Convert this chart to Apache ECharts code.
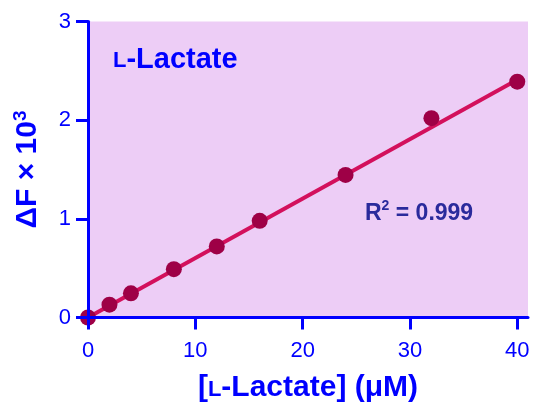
<!DOCTYPE html>
<html>
<head>
<meta charset="utf-8">
<script src="https://cdn.jsdelivr.net/npm/echarts@6/dist/echarts.min.js"></script>
<style>
html,body{margin:0;padding:0;background:#fff;}
#c{width:534px;height:404px;}
</style>
</head>
<body>
<div id="c"></div>
<script>
// Data
var concentrations = [0, 2, 4, 8, 12, 16, 24, 32, 40];
var deltaF = [0.00, 0.13, 0.245, 0.49, 0.72, 0.98, 1.445, 2.02, 2.39];
var fitX = [0, 40];
var fitY = [0, 2.41];
var xTicks = [0, 10, 20, 30, 40];
var yTicks = [0, 1, 2, 3];
var r2Text = '0.999';

var blue = '#0000ff';
var font = 'Liberation Sans, Arial, sans-serif';

var chart = echarts.init(document.getElementById('c'), null, {renderer: 'canvas'});
chart.setOption({
  animation: false,
  backgroundColor: '#ffffff',
  title: [{
    left: 108, top: 39,
    text: '{sc|L}{b|-Lactate}',
    textStyle: {
      rich: {
        sc: {fontSize: 22, fontWeight: 'bold', color: blue, fontFamily: font, verticalAlign: 'bottom', lineHeight: 30, padding: [0, 0, 2, 0]},
        b: {fontSize: 29, fontWeight: 'bold', color: blue, fontFamily: font, verticalAlign: 'bottom', lineHeight: 30}
      }
    }
  }, {
    left: 360, top: 194,
    text: '{r|R}{sup|2}{r| = ' + r2Text + '}',
    textStyle: {
      rich: {
        r: {fontSize: 23, fontWeight: 'bold', color: '#2a2a9c', fontFamily: font, lineHeight: 26, verticalAlign: 'bottom'},
        sup: {fontSize: 14, fontWeight: 'bold', color: '#2a2a9c', fontFamily: font, lineHeight: 26, verticalAlign: 'top'}
      }
    }
  }],
  grid: {
    left: 88, right: 6, top: 21.5, bottom: 86.5,
    containLabel: false,
    outerBoundsMode: 'none',
    show: true,
    backgroundColor: '#edcdf6',
    borderWidth: 0
  },
  xAxis: {
    type: 'value',
    min: 0, max: 41, interval: 10,
    z: 10,
    name: '{p|[}{sc|L}{p|-Lactate] (\u03bcM)}',
    nameLocation: 'middle',
    nameGap: 54,
    nameTextStyle: {
      rich: {
        p: {fontSize: 30, fontWeight: 'bold', color: blue, fontFamily: font, verticalAlign: 'bottom', lineHeight: 31},
        sc: {fontSize: 22, fontWeight: 'bold', color: blue, fontFamily: font, verticalAlign: 'bottom', lineHeight: 31, padding: [0, 0, 2, 0]}
      }
    },
    axisLine: {show: true, onZero: false, lineStyle: {color: blue, width: 3}},
    axisTick: {show: true, length: 12, inside: false, customValues: xTicks, lineStyle: {color: blue, width: 3}},
    axisLabel: {show: true, customValues: xTicks, margin: 22, fontSize: 22, color: blue, fontFamily: font},
    splitLine: {show: false}
  },
  yAxis: {
    type: 'value',
    min: 0, max: 3, interval: 1,
    z: 10,
    name: '{b|\u0394F \u00d7 10}{sup|3}',
    nameLocation: 'middle',
    nameRotate: 90,
    nameGap: 45,
    nameTextStyle: {
      rich: {
        b: {fontSize: 30, fontWeight: 'bold', color: blue, fontFamily: font, verticalAlign: 'bottom', lineHeight: 32},
        sup: {fontSize: 19, fontWeight: 'bold', color: blue, fontFamily: font, verticalAlign: 'top', lineHeight: 32}
      }
    },
    axisLine: {show: true, onZero: false, lineStyle: {color: blue, width: 3}},
    axisTick: {show: true, length: 12, inside: false, lineStyle: {color: blue, width: 3}},
    axisLabel: {show: true, margin: 17, fontSize: 22, color: blue, fontFamily: font},
    splitLine: {show: false}
  },
  series: [{
    type: 'line',
    data: fitX.map(function (x, i) { return [x, fitY[i]]; }),
    showSymbol: false,
    symbol: 'none',
    lineStyle: {color: '#d3105c', width: 4},
    z: 2,
    silent: true
  }, {
    type: 'scatter',
    data: concentrations.map(function (x, i) { return [x, deltaF[i]]; }),
    symbolSize: 16,
    itemStyle: {color: '#9e0046', opacity: 1},
    clip: false,
    z: 3
  }]
});
</script>
</body>
</html>
